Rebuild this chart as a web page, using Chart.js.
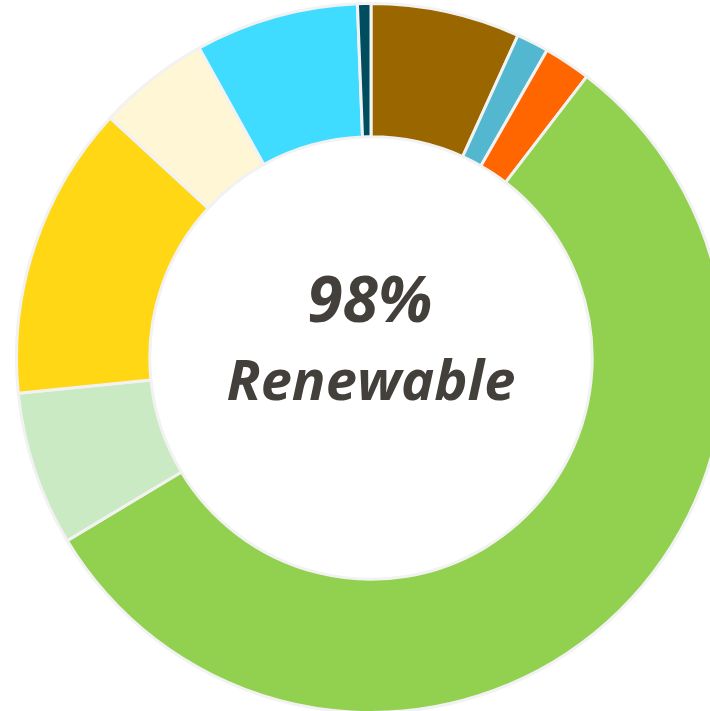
<!DOCTYPE html>
<html>
<head>
<meta charset="utf-8">
<script src="https://cdn.jsdelivr.net/npm/chart.js@4"></script>
<style>
  html, body { margin: 0; padding: 0; background: #fff; overflow: hidden; width: 710px; height: 711px; }
  #wrap { position: absolute; left: 15px; top: 2px; width: 712px; height: 712px; }
</style>
</head>
<body>
<div id="wrap"><canvas id="mixChart" width="712" height="712"></canvas></div>
<script>
const sources = ['Biomass', 'Solar', 'Oil', 'Hydro', 'Geothermal', 'Wind', 'Biogas', 'Imports', 'Gas'];
const shares = [6.8, 1.47, 2.14, 55.97, 7.03, 13.42, 5.11, 7.44, 0.61];
const sliceColors = ['#996600', '#53B8CF', '#FF6600', '#92D050', '#C9EAC3', '#FFD714', '#FFF6D5', '#40DCFF', '#004D60'];
const centerLines = ['98%', 'Renewable'];

// writes the two lines in the hole
const centerText = {
    id: 'centerText',
    afterDraw(chart) {
        const ctx = chart.ctx;
        const meta = chart.getDatasetMeta(0).data[0];
        const x = meta.x, y = meta.y;
        ctx.save();
        ctx.fillStyle = '#433F3A';
        ctx.textAlign = 'center';
        ctx.textBaseline = 'alphabetic';
        ctx.font = 'italic bold 64px "Open Sans"';
        ctx.fillText(centerLines[0], x - 1, y - 36);
        ctx.font = 'italic bold 56px "Open Sans"';
        ctx.fillText(centerLines[1], x, y + 42);
        ctx.restore();
    }
};

new Chart(document.getElementById('mixChart'), {
    type: 'doughnut',
    data: {
        labels: sources,
        datasets: [{
            data: shares,
            backgroundColor: sliceColors,
            borderColor: '#F2F2F2',
            borderWidth: 3
        }]
    },
    options: {
        responsive: false,
        animation: false,
        cutout: '62.4%',
        layout: { padding: 0 },
        plugins: {
            legend: { display: false },
            tooltip: { enabled: false }
        }
    },
    plugins: [centerText]
});
</script>
</body>
</html>
